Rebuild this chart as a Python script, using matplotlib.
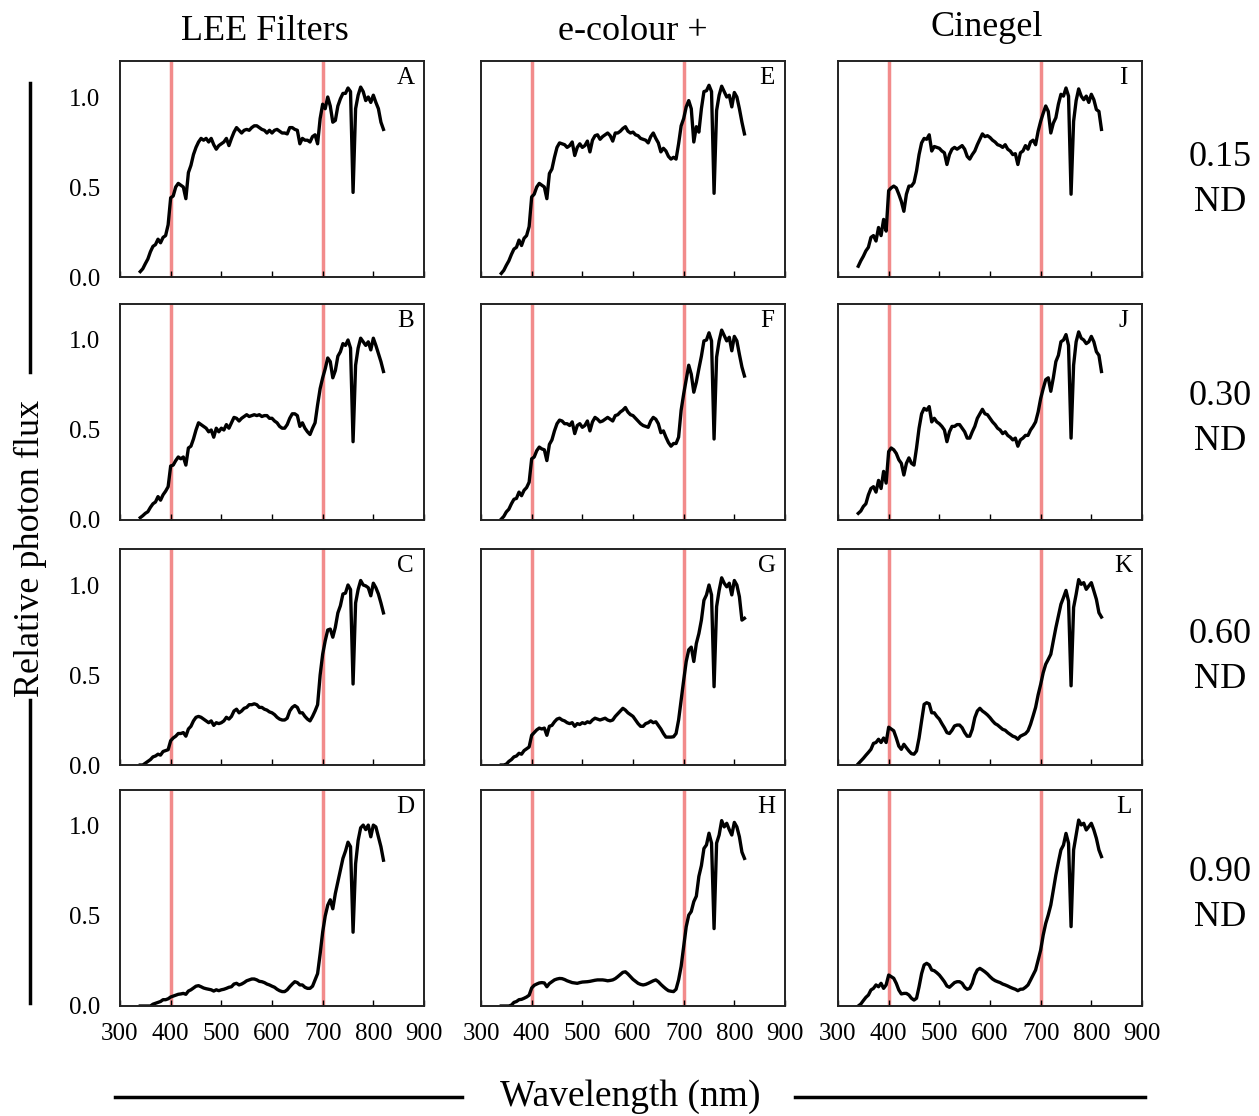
import numpy as np
import matplotlib.pyplot as plt
from matplotlib.lines import Line2D
from matplotlib.ticker import FormatStrFormatter

plt.rcParams['font.family'] = ['Liberation Serif', 'DejaVu Serif']

# wavelength grid, nm (5 nm steps)
wavelength = np.arange(340, 821, 5)

# ---- LEE Filters ----
lee_015 = [0.03, 0.046, 0.074, 0.10, 0.14, 0.17, 0.18, 0.21, 0.19, 0.22, 0.23, 0.29,
           0.44, 0.45, 0.50, 0.52, 0.51, 0.50, 0.435, 0.58, 0.62, 0.68, 0.72, 0.75, 0.77, 0.76, 0.77, 0.75, 0.77, 0.735, 0.71, 0.73,
           0.74, 0.75, 0.77, 0.73, 0.77, 0.805, 0.83, 0.815, 0.80, 0.815, 0.82, 0.815, 0.83, 0.84, 0.84, 0.83, 0.82, 0.815, 0.80, 0.815,
           0.80, 0.815, 0.82, 0.81, 0.80, 0.80, 0.795, 0.83, 0.83, 0.82, 0.815, 0.74, 0.77, 0.76, 0.76, 0.75, 0.78, 0.79, 0.74, 0.88,
           0.96, 0.935, 1.0, 0.95, 0.86, 0.87, 0.95, 0.99, 1.02, 1.02, 1.05, 1.03, 0.47, 0.935, 1.01, 1.055, 1.03, 0.98, 1.0, 0.97,
           1.01, 0.97, 0.935, 0.86, 0.82]
lee_030 = [0.013, 0.024, 0.037, 0.046, 0.07, 0.09, 0.10, 0.13, 0.11, 0.14, 0.16, 0.185,
           0.30, 0.305, 0.33, 0.35, 0.34, 0.35, 0.305, 0.40, 0.41, 0.45, 0.50, 0.54, 0.53, 0.52, 0.51, 0.49, 0.50, 0.46, 0.51, 0.49,
           0.51, 0.50, 0.53, 0.51, 0.54, 0.57, 0.565, 0.55, 0.565, 0.575, 0.585, 0.575, 0.58, 0.585, 0.58, 0.585, 0.575, 0.58, 0.58, 0.565,
           0.565, 0.55, 0.54, 0.52, 0.51, 0.51, 0.53, 0.565, 0.59, 0.59, 0.58, 0.52, 0.54, 0.51, 0.49, 0.475, 0.51, 0.54, 0.64, 0.73,
           0.79, 0.84, 0.90, 0.88, 0.79, 0.83, 0.91, 0.935, 0.98, 0.97, 1.0, 0.955, 0.435, 0.86, 0.955, 1.01, 0.99, 0.97, 0.99, 0.945,
           1.01, 0.97, 0.925, 0.88, 0.825]
lee_060 = [0.0, 0.0, 0.01, 0.02, 0.03, 0.045, 0.05, 0.06, 0.055, 0.075, 0.08, 0.085,
           0.135, 0.15, 0.16, 0.175, 0.175, 0.18, 0.16, 0.20, 0.215, 0.245, 0.265, 0.27, 0.265, 0.255, 0.245, 0.235, 0.245, 0.22, 0.235, 0.23,
           0.235, 0.245, 0.265, 0.255, 0.27, 0.30, 0.31, 0.29, 0.30, 0.315, 0.32, 0.335, 0.335, 0.34, 0.335, 0.32, 0.32, 0.31, 0.305, 0.295,
           0.29, 0.28, 0.265, 0.255, 0.25, 0.25, 0.26, 0.30, 0.32, 0.33, 0.32, 0.29, 0.29, 0.27, 0.255, 0.245, 0.27, 0.30, 0.335, 0.50,
           0.615, 0.69, 0.75, 0.755, 0.71, 0.765, 0.845, 0.885, 0.95, 0.955, 1.0, 0.975, 0.45, 0.90, 0.975, 1.025, 1.0, 0.995, 0.985, 0.94,
           1.01, 0.985, 0.95, 0.90, 0.845]
lee_090 = [0.0, 0.0, 0.0, 0.0, 0.0, 0.01, 0.015, 0.02, 0.025, 0.035, 0.035, 0.04,
           0.05, 0.055, 0.06, 0.065, 0.067, 0.07, 0.065, 0.083, 0.09, 0.10, 0.11, 0.113, 0.107, 0.10, 0.096, 0.093, 0.09, 0.083, 0.09, 0.085,
           0.09, 0.093, 0.098, 0.104, 0.107, 0.122, 0.126, 0.117, 0.122, 0.13, 0.14, 0.145, 0.15, 0.15, 0.145, 0.137, 0.135, 0.13, 0.122, 0.117,
           0.11, 0.104, 0.093, 0.085, 0.08, 0.08, 0.09, 0.107, 0.122, 0.135, 0.13, 0.117, 0.117, 0.104, 0.098, 0.098, 0.11, 0.145, 0.18, 0.29,
           0.41, 0.50, 0.56, 0.59, 0.54, 0.625, 0.69, 0.755, 0.82, 0.86, 0.91, 0.885, 0.41, 0.79, 0.92, 0.99, 1.005, 0.98, 1.005, 0.94,
           1.005, 0.995, 0.94, 0.885, 0.81]

# ---- e-colour + ----
ecol_015 = [0.02, 0.037, 0.065, 0.09, 0.125, 0.155, 0.165, 0.205, 0.175, 0.215, 0.23, 0.28,
            0.445, 0.46, 0.50, 0.52, 0.51, 0.50, 0.435, 0.575, 0.60, 0.665, 0.72, 0.745, 0.74, 0.735, 0.72, 0.73, 0.75, 0.675, 0.72, 0.74,
            0.72, 0.73, 0.755, 0.695, 0.76, 0.785, 0.79, 0.765, 0.78, 0.79, 0.80, 0.785, 0.755, 0.80, 0.80, 0.81, 0.825, 0.835, 0.81, 0.80,
            0.805, 0.79, 0.785, 0.77, 0.765, 0.76, 0.745, 0.78, 0.80, 0.77, 0.745, 0.695, 0.715, 0.70, 0.67, 0.655, 0.665, 0.655, 0.74, 0.84,
            0.88, 0.945, 0.98, 0.935, 0.75, 0.835, 0.805, 0.935, 1.03, 1.035, 1.065, 1.03, 0.465, 0.925, 1.01, 1.06, 1.03, 1.0, 1.01, 0.945,
            1.025, 1.0, 0.935, 0.86, 0.795]
ecol_030 = [0.005, 0.02, 0.045, 0.06, 0.09, 0.115, 0.12, 0.155, 0.135, 0.165, 0.18, 0.21,
            0.34, 0.35, 0.385, 0.405, 0.395, 0.39, 0.33, 0.42, 0.445, 0.495, 0.535, 0.555, 0.55, 0.535, 0.535, 0.525, 0.545, 0.48, 0.525, 0.535,
            0.515, 0.525, 0.55, 0.495, 0.545, 0.57, 0.56, 0.545, 0.55, 0.56, 0.57, 0.56, 0.55, 0.58, 0.585, 0.60, 0.61, 0.625, 0.60, 0.585,
            0.58, 0.565, 0.55, 0.535, 0.525, 0.52, 0.515, 0.55, 0.57, 0.56, 0.535, 0.485, 0.495, 0.46, 0.43, 0.41, 0.425, 0.425, 0.46, 0.61,
            0.70, 0.78, 0.86, 0.81, 0.71, 0.765, 0.84, 0.91, 0.995, 1.0, 1.04, 0.995, 0.45, 0.905, 0.995, 1.055, 1.025, 0.995, 1.015, 0.94,
            1.02, 0.995, 0.92, 0.85, 0.80]
ecol_060 = [0.0, 0.0, 0.005, 0.02, 0.03, 0.045, 0.05, 0.065, 0.06, 0.08, 0.09, 0.10,
            0.165, 0.18, 0.195, 0.205, 0.20, 0.205, 0.165, 0.215, 0.22, 0.24, 0.255, 0.26, 0.25, 0.245, 0.235, 0.23, 0.235, 0.215, 0.23, 0.225,
            0.235, 0.23, 0.24, 0.235, 0.25, 0.26, 0.255, 0.25, 0.255, 0.26, 0.25, 0.245, 0.25, 0.27, 0.285, 0.30, 0.315, 0.305, 0.29, 0.28,
            0.27, 0.25, 0.23, 0.215, 0.215, 0.23, 0.235, 0.245, 0.235, 0.24, 0.22, 0.20, 0.175, 0.155, 0.155, 0.155, 0.157, 0.175, 0.25, 0.36,
            0.47, 0.575, 0.64, 0.655, 0.575, 0.675, 0.73, 0.805, 0.915, 0.945, 1.0, 0.945, 0.435, 0.88, 0.97, 1.04, 1.01, 0.99, 1.01, 0.945,
            1.025, 1.0, 0.935, 0.805, 0.815]
ecol_090 = [0.0, 0.0, 0.0, 0.0, 0.005, 0.02, 0.025, 0.035, 0.037, 0.043, 0.05, 0.06,
            0.10, 0.115, 0.122, 0.128, 0.13, 0.128, 0.107, 0.125, 0.135, 0.145, 0.15, 0.153, 0.152, 0.147, 0.14, 0.135, 0.13, 0.128, 0.126, 0.13,
            0.133, 0.134, 0.135, 0.137, 0.14, 0.143, 0.145, 0.145, 0.145, 0.143, 0.14, 0.142, 0.145, 0.152, 0.163, 0.175, 0.187, 0.19, 0.178, 0.163,
            0.148, 0.137, 0.126, 0.12, 0.117, 0.12, 0.126, 0.133, 0.14, 0.145, 0.135, 0.12, 0.107, 0.095, 0.085, 0.082, 0.08, 0.093, 0.145, 0.22,
            0.33, 0.44, 0.505, 0.525, 0.58, 0.61, 0.72, 0.78, 0.875, 0.895, 0.96, 0.905, 0.43, 0.905, 0.95, 1.03, 0.995, 1.015, 0.98, 0.95,
            1.02, 0.995, 0.94, 0.855, 0.82]

# ---- Cinegel ----
cine_015 = [0.06, 0.09, 0.115, 0.145, 0.165, 0.22, 0.23, 0.20, 0.275, 0.23, 0.32, 0.255,
            0.48, 0.495, 0.505, 0.495, 0.46, 0.42, 0.365, 0.46, 0.505, 0.505, 0.525, 0.59, 0.68, 0.745, 0.77, 0.765, 0.79, 0.70, 0.725, 0.72,
            0.715, 0.70, 0.69, 0.625, 0.68, 0.71, 0.72, 0.71, 0.72, 0.73, 0.71, 0.67, 0.655, 0.68, 0.70, 0.735, 0.765, 0.795, 0.78, 0.785,
            0.775, 0.76, 0.75, 0.735, 0.73, 0.72, 0.735, 0.71, 0.70, 0.68, 0.685, 0.625, 0.69, 0.70, 0.73, 0.71, 0.75, 0.76, 0.735, 0.81,
            0.865, 0.91, 0.95, 0.92, 0.80, 0.855, 0.885, 0.96, 1.015, 1.005, 1.05, 1.005, 0.46, 0.865, 0.98, 1.045, 1.005, 0.985, 1.005, 0.97,
            1.015, 0.985, 0.93, 0.92, 0.82]
cine_030 = [0.037, 0.05, 0.075, 0.09, 0.14, 0.175, 0.185, 0.155, 0.22, 0.175, 0.27, 0.205,
            0.38, 0.40, 0.39, 0.37, 0.335, 0.315, 0.25, 0.315, 0.345, 0.315, 0.305, 0.40, 0.51, 0.59, 0.62, 0.61, 0.63, 0.545, 0.565, 0.545,
            0.535, 0.52, 0.50, 0.435, 0.49, 0.52, 0.52, 0.53, 0.53, 0.51, 0.49, 0.455, 0.455, 0.49, 0.52, 0.565, 0.59, 0.615, 0.59, 0.585,
            0.565, 0.545, 0.53, 0.51, 0.50, 0.48, 0.49, 0.47, 0.46, 0.445, 0.455, 0.41, 0.445, 0.455, 0.47, 0.47, 0.50, 0.52, 0.545, 0.60,
            0.675, 0.73, 0.78, 0.79, 0.715, 0.79, 0.88, 0.915, 0.99, 1.0, 1.03, 0.97, 0.455, 0.86, 0.99, 1.045, 1.01, 1.0, 0.98, 0.99,
            1.02, 0.99, 0.935, 0.915, 0.825]
cine_060 = [0.007, 0.022, 0.037, 0.054, 0.07, 0.087, 0.12, 0.125, 0.143, 0.125, 0.15, 0.125,
            0.21, 0.20, 0.19, 0.15, 0.105, 0.087, 0.115, 0.096, 0.078, 0.063, 0.06, 0.078, 0.15, 0.245, 0.337, 0.346, 0.34, 0.29, 0.29, 0.27,
            0.255, 0.23, 0.207, 0.18, 0.175, 0.193, 0.217, 0.222, 0.222, 0.207, 0.18, 0.16, 0.16, 0.198, 0.263, 0.30, 0.315, 0.30, 0.29, 0.278,
            0.263, 0.245, 0.23, 0.222, 0.21, 0.198, 0.193, 0.18, 0.17, 0.16, 0.155, 0.143, 0.16, 0.167, 0.174, 0.19, 0.226, 0.272, 0.32, 0.39,
            0.448, 0.513, 0.56, 0.587, 0.615, 0.69, 0.763, 0.828, 0.893, 0.93, 0.97, 0.91, 0.44, 0.875, 0.948, 1.03, 1.004, 1.013, 0.976, 0.995,
            1.013, 0.967, 0.92, 0.846, 0.822]
cine_090 = [0.0, 0.011, 0.03, 0.048, 0.061, 0.089, 0.098, 0.117, 0.107, 0.126, 0.098, 0.117,
            0.172, 0.163, 0.154, 0.126, 0.089, 0.067, 0.07, 0.07, 0.061, 0.043, 0.033, 0.043, 0.107, 0.18, 0.228, 0.237, 0.228, 0.20, 0.196, 0.185,
            0.172, 0.154, 0.135, 0.111, 0.104, 0.117, 0.13, 0.135, 0.135, 0.126, 0.104, 0.093, 0.098, 0.126, 0.172, 0.20, 0.209, 0.20, 0.19, 0.178,
            0.163, 0.15, 0.141, 0.135, 0.13, 0.122, 0.117, 0.111, 0.104, 0.098, 0.093, 0.085, 0.093, 0.094, 0.104, 0.117, 0.144, 0.172, 0.20, 0.255,
            0.311, 0.394, 0.459, 0.506, 0.561, 0.644, 0.728, 0.80, 0.867, 0.894, 0.959, 0.904, 0.441, 0.867, 0.95, 1.033, 1.006, 1.015, 0.978, 0.996,
            1.015, 0.978, 0.931, 0.867, 0.83]

panels = [[lee_015, ecol_015, cine_015],
          [lee_030, ecol_030, cine_030],
          [lee_060, ecol_060, cine_060],
          [lee_090, ecol_090, cine_090]]
letters = [['A', 'E', 'I'], ['B', 'F', 'J'], ['C', 'G', 'K'], ['D', 'H', 'L']]
col_titles = ['LEE Filters', 'e-colour +', 'Cinegel']
row_labels = ['0.15\nND', '0.30\nND', '0.60\nND', '0.90\nND']

W, H = 1259, 1116
fig = plt.figure(figsize=(W / 100, H / 100), dpi=100)

lefts = [120, 481, 838]
bottoms = [277, 520, 765, 1006]
red = '#f28b8b'

for r in range(4):
    for c in range(3):
        ax = fig.add_axes([lefts[c] / W, 1 - bottoms[r] / H, 304 / W, 216 / H])
        ax.axvline(400, color=red, lw=2.5, zorder=1)
        ax.axvline(700, color=red, lw=2.5, zorder=1)
        ax.plot(wavelength, panels[r][c], color='black', lw=2.4, zorder=2)
        ax.set_xlim(300, 900)
        ax.set_ylim(0, 1.2)
        ax.set_xticks(range(300, 901, 100))
        ax.set_yticks([0, 0.5, 1.0])
        ax.yaxis.set_major_formatter(FormatStrFormatter('%.1f'))
        ax.tick_params(axis='x', direction='in', length=4, width=1, labelsize=18,
                       pad=12, labelbottom=(r == 3))
        ax.tick_params(axis='y', length=0, labelsize=18, pad=14, labelleft=(c == 0))
        for s in ax.spines.values():
            s.set_linewidth(1.4)
            s.set_color('#222222')
        ax.text(0.94, 0.92, letters[r][c], transform=ax.transAxes,
                ha='center', va='center', fontsize=18)

# column titles
for x, y, t in zip([265, 633, 987], [32, 32, 27], col_titles):
    fig.text(x / W, 1 - y / H, t, ha='center', va='center', fontsize=26)

# row labels
for y, t in zip([180, 419, 657, 895], row_labels):
    fig.text(1220 / W, 1 - y / H, t, ha='center', va='center', fontsize=26,
             linespacing=1.45)

# axis labels with side lines
fig.text(30 / W, 1 - 548 / H, 'Relative photon flux', rotation=90,
         ha='center', va='center', fontsize=26)
fig.text(630 / W, 1 - 1097 / H, 'Wavelength (nm)', ha='center', va='center', fontsize=27)

for x0, y0, x1, y1 in [(30, 83, 30, 372), (30, 700, 30, 1003),
                       (115, 1097, 462, 1097), (795, 1097, 1145, 1097)]:
    fig.add_artist(Line2D([x0 / W, x1 / W], [1 - y0 / H, 1 - y1 / H],
                          transform=fig.transFigure, color='black', lw=2.5))

plt.savefig('out.png', dpi=100)
